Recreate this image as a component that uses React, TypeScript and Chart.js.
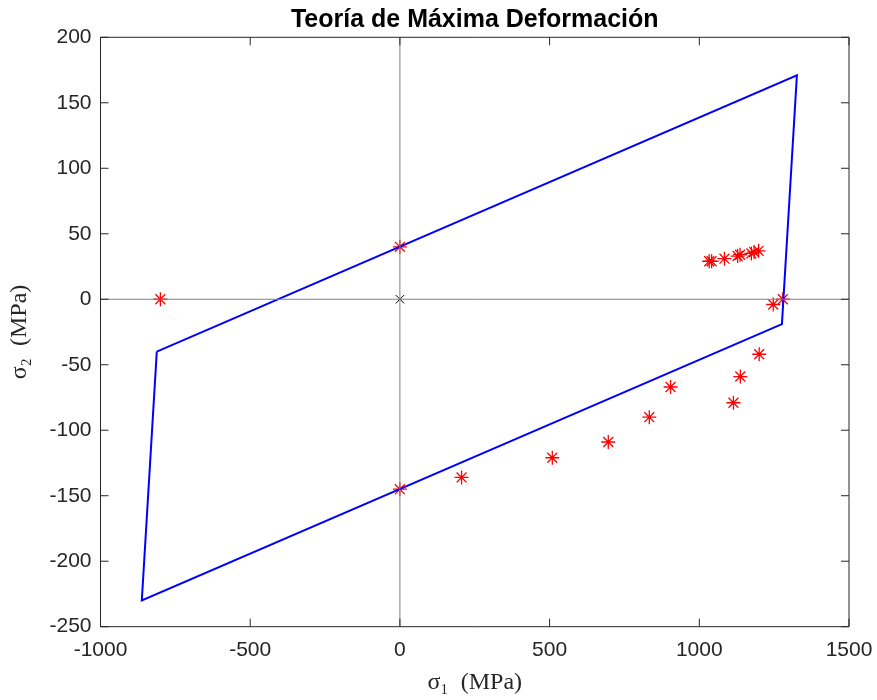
import React, { useEffect, useRef } from "react";
import { Chart, registerables } from "chart.js";

Chart.register(...registerables);

// Failure envelope (closed polygon)
const envelopeS1 = [-812, 1326, 1276, -862, -812];
const envelopeS2 = [-40, 171, -19, -230, -40];

// Stress states (red asterisks)
const pointsS1 = [-800, 0, 0, 206, 509, 696, 833, 904, 1114, 1137, 1200, 1033, 1041, 1084, 1128, 1136, 1174, 1183, 1198, 1247, 1279];
const pointsS2 = [0, 40, -145, -136, -121, -109, -90, -67, -79, -59, -42, 29, 29, 31, 33, 34, 35, 36, 37, -4, 0];

// Origin marker
const originS1 = [0];
const originS2 = [0];

// Axis ranges / ticks
const xRange = [-1000, 1500];
const yRange = [-250, 200];
const xTickStep = 500;
const yTickStep = 50;

const TITLE = "Teoría de Máxima Deformación";
const X_LABEL = "σ₁  (MPa)";
const Y_LABEL = "σ₂  (MPa)";

const toXY = (xs: number[], ys: number[]) => xs.map((x, i) => ({ x, y: ys[i] }));

const boxPlugin = {
  id: "matlabBox",
  afterDatasetsDraw(chart: any) {
    const { ctx, chartArea, scales } = chart;
    const { left, right, top, bottom } = chartArea;
    ctx.save();
    ctx.strokeStyle = "#262626";
    ctx.lineWidth = 1;
    ctx.beginPath();
    ctx.rect(left, top, right - left, bottom - top);
    ctx.stroke();
    const tl = 8;
    ctx.beginPath();
    for (let v = xRange[0]; v <= xRange[1]; v += xTickStep) {
      const px = scales.x.getPixelForValue(v);
      ctx.moveTo(px, bottom);
      ctx.lineTo(px, bottom - tl);
      ctx.moveTo(px, top);
      ctx.lineTo(px, top + tl);
    }
    for (let v = yRange[0]; v <= yRange[1]; v += yTickStep) {
      const py = scales.y.getPixelForValue(v);
      ctx.moveTo(left, py);
      ctx.lineTo(left + tl, py);
      ctx.moveTo(right, py);
      ctx.lineTo(right - tl, py);
    }
    ctx.stroke();
    ctx.restore();
  },
};

export default function App() {
  const ref = useRef<HTMLCanvasElement | null>(null);

  useEffect(() => {
    if (!ref.current) return;
    const tickFont = { family: "'Liberation Sans', Arial, sans-serif", size: 21 };
    const labelFont = { family: "'Liberation Serif', 'DejaVu Serif', serif", size: 24 };
    const chart = new Chart(ref.current, {
      type: "scatter",
      data: {
        datasets: [
          {
            data: toXY([xRange[0], xRange[1]], [0, 0]),
            showLine: true,
            borderColor: "#808080",
            borderWidth: 1,
            pointRadius: 0,
          },
          {
            data: toXY([0, 0], [yRange[0], yRange[1]]),
            showLine: true,
            borderColor: "#808080",
            borderWidth: 1,
            pointRadius: 0,
          },
          {
            data: toXY(envelopeS1, envelopeS2),
            showLine: true,
            borderColor: "#0000ff",
            borderWidth: 2,
            pointRadius: 0,
            tension: 0,
          },
          {
            data: toXY(pointsS1, pointsS2),
            showLine: false,
            pointStyle: "star",
            pointRadius: 7,
            borderColor: "#ff0000",
            backgroundColor: "#ff0000",
            borderWidth: 1.3,
          },
          {
            data: toXY(originS1, originS2),
            showLine: false,
            pointStyle: "crossRot",
            pointRadius: 6,
            borderColor: "#000000",
            borderWidth: 1,
          },
        ],
      },
      options: {
        responsive: false,
        animation: false,
        devicePixelRatio: 1,
        layout: { padding: { left: 0, right: 28, top: 0, bottom: 0 } },
        plugins: {
          legend: { display: false },
          tooltip: { enabled: false },
          title: {
            display: true,
            fullSize: false,
            text: TITLE,
            color: "#000000",
            font: { family: "'Liberation Sans', Arial, sans-serif", size: 25, weight: "bold" },
            padding: { top: 5, bottom: 2.3 },
          },
        },
        scales: {
          x: {
            type: "linear",
            min: xRange[0],
            max: xRange[1],
            grid: { display: false, drawTicks: false },
            border: { display: false },
            ticks: {
              stepSize: xTickStep,
              color: "#262626",
              font: tickFont,
              padding: 11,
              maxRotation: 0,
              callback: (v: any) => String(v),
            },
            title: { display: true, text: X_LABEL, color: "#262626", font: labelFont, padding: { top: 0, bottom: 2.6 } },
            afterFit: (s: any) => {
              s.height = 73.3;
              s.paddingRight = 0;
              s.paddingLeft = 0;
            },
          },
          y: {
            type: "linear",
            min: yRange[0],
            max: yRange[1],
            grid: { display: false, drawTicks: false },
            border: { display: false },
            ticks: {
              stepSize: yTickStep,
              color: "#262626",
              font: tickFont,
              padding: 9,
              callback: (v: any) => String(v),
            },
            title: { display: true, text: Y_LABEL, color: "#262626", font: labelFont, padding: { top: 5, bottom: 0 } },
            afterFit: (s: any) => {
              s.width = 100.5;
              s.paddingTop = 0;
              s.paddingBottom = 0;
            },
          },
        },
      },
      plugins: [boxPlugin],
    } as any);
    return () => chart.destroy();
  }, []);

  return (
    <div style={{ position: "absolute", left: 0, top: 0, width: 877, height: 700, background: "#fff" }}>
      <canvas ref={ref} width={877} height={700} />
    </div>
  );
}
